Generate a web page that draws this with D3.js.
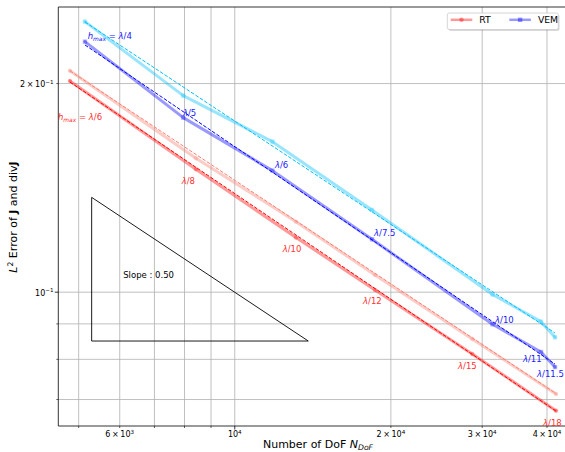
<!DOCTYPE html>
<html><head><meta charset="utf-8">
<script src="https://cdn.jsdelivr.net/npm/d3@7"></script>
<style>body{margin:0;background:#fff}svg{display:block}text{font-family:"DejaVu Sans",sans-serif}</style>
</head><body><svg id="c" width="565" height="452"></svg>
<script>
// ---------------- data ----------------
const rtDof   = [4821, 8435, 13152, 18680, 28773, 41730];
const rtErrA  = [0.2014, 0.1502, 0.1197, 0.1006, 0.08131, 0.06734];   // red
const rtErrB  = [0.2084, 0.1558, 0.1262, 0.1057, 0.08546, 0.07118];   // salmon
const rtLabels = ["h_max = λ/6", "λ/8", "λ/10", "λ/12", "λ/15", "λ/18"];
const vemDof  = [5153, 7973, 11848, 18433, 31478, 39034, 41540];
const vemErrA = [0.2295, 0.1783, 0.1495, 0.1190, 0.08974, 0.08185, 0.07784]; // blue
const vemErrB = [0.2453, 0.1918, 0.1646, 0.1312, 0.09908, 0.09052, 0.08594]; // deepskyblue
const vemLabels = ["h_max = λ/4", "λ/5", "λ/6", "λ/7.5", "λ/10", "λ/11", "λ/11.5"];
const fitRtA  = [[4821, 0.2007], [41730, 0.06726]];
const fitRtB  = [[4821, 0.2083], [41730, 0.07129]];
const fitVemA = [[5153, 0.2270], [41540, 0.07863]];
const fitVemB = [[5153, 0.2450], [41540, 0.08717]];
const slopeTri = [[5309, 0.1368], [5309, 0.08488], [13890, 0.08488]];
const slopeText = "Slope : 0.50";
const slopeTextAt = [6107, 0.1046];
const xTickVals = [6000, 10000, 20000, 30000, 40000];
const xTickLabels = ["6×10^3", "10^4", "2×10^4", "3×10^4", "4×10^4"];
const yTickVals = [0.2, 0.1];
const yTickLabels = ["2×10^−1", "10^−1"];
const legendNames = ["RT", "VEM"];

// ---------------- layout ----------------
const P = {l: 58.3, r: 566, t: 7, b: 426};
const x = d3.scaleLog().domain([4578, 43620]).range([P.l, P.r]);
const y = d3.scaleLog().domain([0.0640, 0.2575]).range([P.b, P.t]);
const svg = d3.select("#c");
svg.append("defs").append("clipPath").attr("id", "clip").append("rect")
  .attr("x", P.l).attr("y", P.t).attr("width", P.r - P.l).attr("height", P.b - P.t);

// grid
const xGrid = [5000, 6000, 7000, 8000, 9000, 10000, 20000, 30000, 40000];
const yGrid = [0.07, 0.08, 0.09, 0.1, 0.2];
function styleGrid(g) { g.select(".domain").remove(); g.selectAll("line").attr("stroke", "#b0b0b0").attr("stroke-width", 0.8); }
svg.append("g").attr("transform", `translate(0,${P.b})`)
  .call(d3.axisBottom(x).tickValues(xGrid).tickSize(-(P.b - P.t)).tickFormat("")).call(styleGrid);
svg.append("g").attr("transform", `translate(${P.l},0)`)
  .call(d3.axisLeft(y).tickValues(yGrid).tickSize(-(P.r - P.l)).tickFormat("")).call(styleGrid);

// ticks
function styleTicks(g, w) { g.select(".domain").remove(); g.selectAll("line").attr("stroke", "#000").attr("stroke-width", w); }
svg.append("g").attr("transform", `translate(0,${P.b})`)
  .call(d3.axisBottom(x).tickValues(xGrid.filter(v => v !== 10000)).tickSize(2).tickFormat("")).call(g => styleTicks(g, 0.6));
svg.append("g").attr("transform", `translate(0,${P.b})`)
  .call(d3.axisBottom(x).tickValues([10000]).tickSize(3.5).tickFormat("")).call(g => styleTicks(g, 0.8));
svg.append("g").attr("transform", `translate(${P.l},0)`)
  .call(d3.axisLeft(y).tickValues(yGrid.filter(v => v !== 0.1)).tickSize(2).tickFormat("")).call(g => styleTicks(g, 0.6));
svg.append("g").attr("transform", `translate(${P.l},0)`)
  .call(d3.axisLeft(y).tickValues([0.1]).tickSize(3.5).tickFormat("")).call(g => styleTicks(g, 0.8));

function supLabel(textSel, str, size) {
  const [base, sup] = str.split("^");
  textSel.text(null);
  textSel.append("tspan").text(base.replace("×", "\u2009×\u2009"));
  textSel.append("tspan").attr("font-size", size * 0.7).attr("dy", -size * 0.42).text(sup);
}
// x tick labels
svg.append("g").attr("transform", `translate(0,${P.b})`)
  .call(d3.axisBottom(x).tickValues(xTickVals).tickSize(0).tickFormat((d, i) => xTickLabels[i]))
  .call(g => {
    g.select(".domain").remove();
    g.selectAll("text").attr("y", 11).attr("dy", null).attr("font-size", 8).attr("fill", "#000")
      .attr("font-family", "DejaVu Sans").each(function(d, i) { supLabel(d3.select(this), xTickLabels[i], 8); });
  });
// y tick labels
svg.append("g").attr("transform", `translate(${P.l},0)`)
  .call(d3.axisLeft(y).tickValues(yTickVals).tickSize(0).tickFormat((d, i) => yTickLabels[i]))
  .call(g => {
    g.select(".domain").remove();
    g.selectAll("text").attr("x", -4.8).attr("dy", "0.45em").attr("font-size", 8).attr("fill", "#000")
      .attr("font-family", "DejaVu Sans").each(function(d, i) { supLabel(d3.select(this), yTickLabels[i], 8); });
  });

// spines
svg.append("line").attr("x1", P.l).attr("x2", P.l).attr("y1", P.t).attr("y2", P.b).attr("stroke", "#000").attr("stroke-width", 0.8);
svg.append("line").attr("x1", P.l).attr("x2", P.r).attr("y1", P.b).attr("y2", P.b).attr("stroke", "#000").attr("stroke-width", 0.8);
svg.append("line").attr("x1", P.l).attr("x2", P.r).attr("y1", P.t).attr("y2", P.t).attr("stroke", "#000").attr("stroke-width", 0.8);

// ---------------- series ----------------
const plotG = svg.append("g").attr("clip-path", "url(#clip)");
const series = [
  {dof: rtDof, err: rtErrB, color: "#fa8072", mk: "circle", fit: fitRtB},
  {dof: rtDof, err: rtErrA, color: "#ff0000", mk: "circle", fit: fitRtA},
  {dof: vemDof, err: vemErrB, color: "#00bfff", mk: "square", fit: fitVemB},
  {dof: vemDof, err: vemErrA, color: "#0000ff", mk: "square", fit: fitVemA}
];
const line = d3.line().x(d => x(d[0])).y(d => y(d[1]));
series.forEach(s => {
  const pts = s.dof.map((d, i) => [d, s.err[i]]);
  plotG.append("path").attr("d", line(pts)).attr("fill", "none").attr("stroke", s.color)
    .attr("stroke-opacity", 0.4).attr("stroke-width", 3).attr("stroke-linejoin", "round").attr("stroke-linecap", "round");
  pts.forEach(p => {
    if (s.mk === "circle") plotG.append("circle").attr("cx", x(p[0])).attr("cy", y(p[1])).attr("r", 2.2).attr("fill", s.color).attr("fill-opacity", 0.3);
    else plotG.append("rect").attr("x", x(p[0]) - 2.2).attr("y", y(p[1]) - 2.2).attr("width", 4.4).attr("height", 4.4).attr("fill", s.color).attr("fill-opacity", 0.3);
  });
});
series.forEach(s => {
  plotG.append("path").attr("d", line(s.fit)).attr("fill", "none").attr("stroke", s.color)
    .attr("stroke-width", 1).attr("stroke-dasharray", "3.7,1.6");
});

// ---------------- annotations ----------------
function mathLabel(sel, str, size) {
  let rest = str;
  if (str.startsWith("h_max = ")) {
    sel.append("tspan").attr("font-style", "italic").text("h");
    sel.append("tspan").attr("font-style", "italic").attr("font-size", size * 0.7).attr("dy", size * 0.22).text("max");
    sel.append("tspan").attr("dy", -size * 0.22).text(" = ");
    rest = str.slice(8);
  }
  sel.append("tspan").attr("font-style", "italic").text(rest[0]);
  sel.append("tspan").text(rest.slice(1));
}
const rtOff = [[-12, 39], [-14.3, 14.7], [-13.3, 14.3], [-12, 14.5], [-14.3, 15], [-13, 15.3]];
const vemOff = [[2.7, -2.2], [-0.3, -1.2], [2.5, -2.2], [2, -3.3], [2.5, -1.3], [-18, 10], [-18, 10]];
rtLabels.forEach((t, i) => {
  const tx = svg.append("text").attr("x", x(rtDof[i]) + rtOff[i][0]).attr("y", y(rtErrA[i]) + rtOff[i][1])
    .attr("font-size", 8.5).attr("fill", "#ff3030");
  mathLabel(tx, t, 8.5);
});
vemLabels.forEach((t, i) => {
  const tx = svg.append("text").attr("x", x(vemDof[i]) + vemOff[i][0]).attr("y", y(vemErrA[i]) + vemOff[i][1])
    .attr("font-size", 8.5).attr("fill", "#2020ff");
  mathLabel(tx, t, 8.5);
});

// slope triangle
svg.append("path").attr("d", line([...slopeTri, slopeTri[0]])).attr("fill", "none").attr("stroke", "#000").attr("stroke-width", 0.9);
svg.append("text").attr("x", x(slopeTextAt[0])).attr("y", y(slopeTextAt[1])).attr("font-size", 8.5).attr("fill", "#000").text(slopeText);

// axis labels
const xl = svg.append("text").attr("x", 318).attr("y", 447.5).attr("text-anchor", "middle").attr("font-size", 11).attr("fill", "#000");
xl.append("tspan").text("Number of DoF ");
xl.append("tspan").attr("font-style", "italic").text("N");
xl.append("tspan").attr("font-style", "italic").attr("font-size", 7.7).attr("dy", 2.5).text("DoF");
const yl = svg.append("text").attr("transform", "translate(17,217) rotate(-90)").attr("text-anchor", "middle").attr("font-size", 11).attr("fill", "#000");
yl.append("tspan").attr("font-style", "italic").text("L");
yl.append("tspan").attr("font-size", 7.7).attr("dy", -4.5).text("2");
yl.append("tspan").attr("dy", 4.5).text(" Error of ");
yl.append("tspan").attr("font-weight", "bold").text("J");
yl.append("tspan").text(" and div");
yl.append("tspan").attr("font-weight", "bold").text("J");

// ---------------- legend ----------------
const lg = svg.append("g");
lg.append("rect").attr("x", 448.5).attr("y", 14.5).attr("width", 111).attr("height", 16.5).attr("rx", 2).attr("fill", "#000").attr("fill-opacity", 0.15);
lg.append("rect").attr("x", 447.3).attr("y", 13).attr("width", 111).attr("height", 16.5).attr("rx", 2)
  .attr("fill", "#fff").attr("stroke", "#cccccc").attr("stroke-width", 0.8);
const legItems = [{c: "#ff0000", mk: "circle", x0: 450.7}, {c: "#0000ff", mk: "square", x0: 509.3}];
legItems.forEach((it, i) => {
  const yy = 19.8;
  lg.append("line").attr("x1", it.x0).attr("x2", it.x0 + 21.6).attr("y1", yy).attr("y2", yy)
    .attr("stroke", it.c).attr("stroke-opacity", 0.4).attr("stroke-width", 2.5);
  const cx = it.x0 + 10.8;
  if (it.mk === "circle") lg.append("circle").attr("cx", cx).attr("cy", yy).attr("r", 2.2).attr("fill", it.c).attr("fill-opacity", 0.4);
  else lg.append("rect").attr("x", cx - 2.2).attr("y", yy - 2.2).attr("width", 4.4).attr("height", 4.4).attr("fill", it.c).attr("fill-opacity", 0.4);
  lg.append("text").attr("x", it.x0 + 28.6).attr("y", yy + 3.4).attr("font-size", 9.3).attr("fill", "#000").text(legendNames[i]);
});
</script></body></html>
